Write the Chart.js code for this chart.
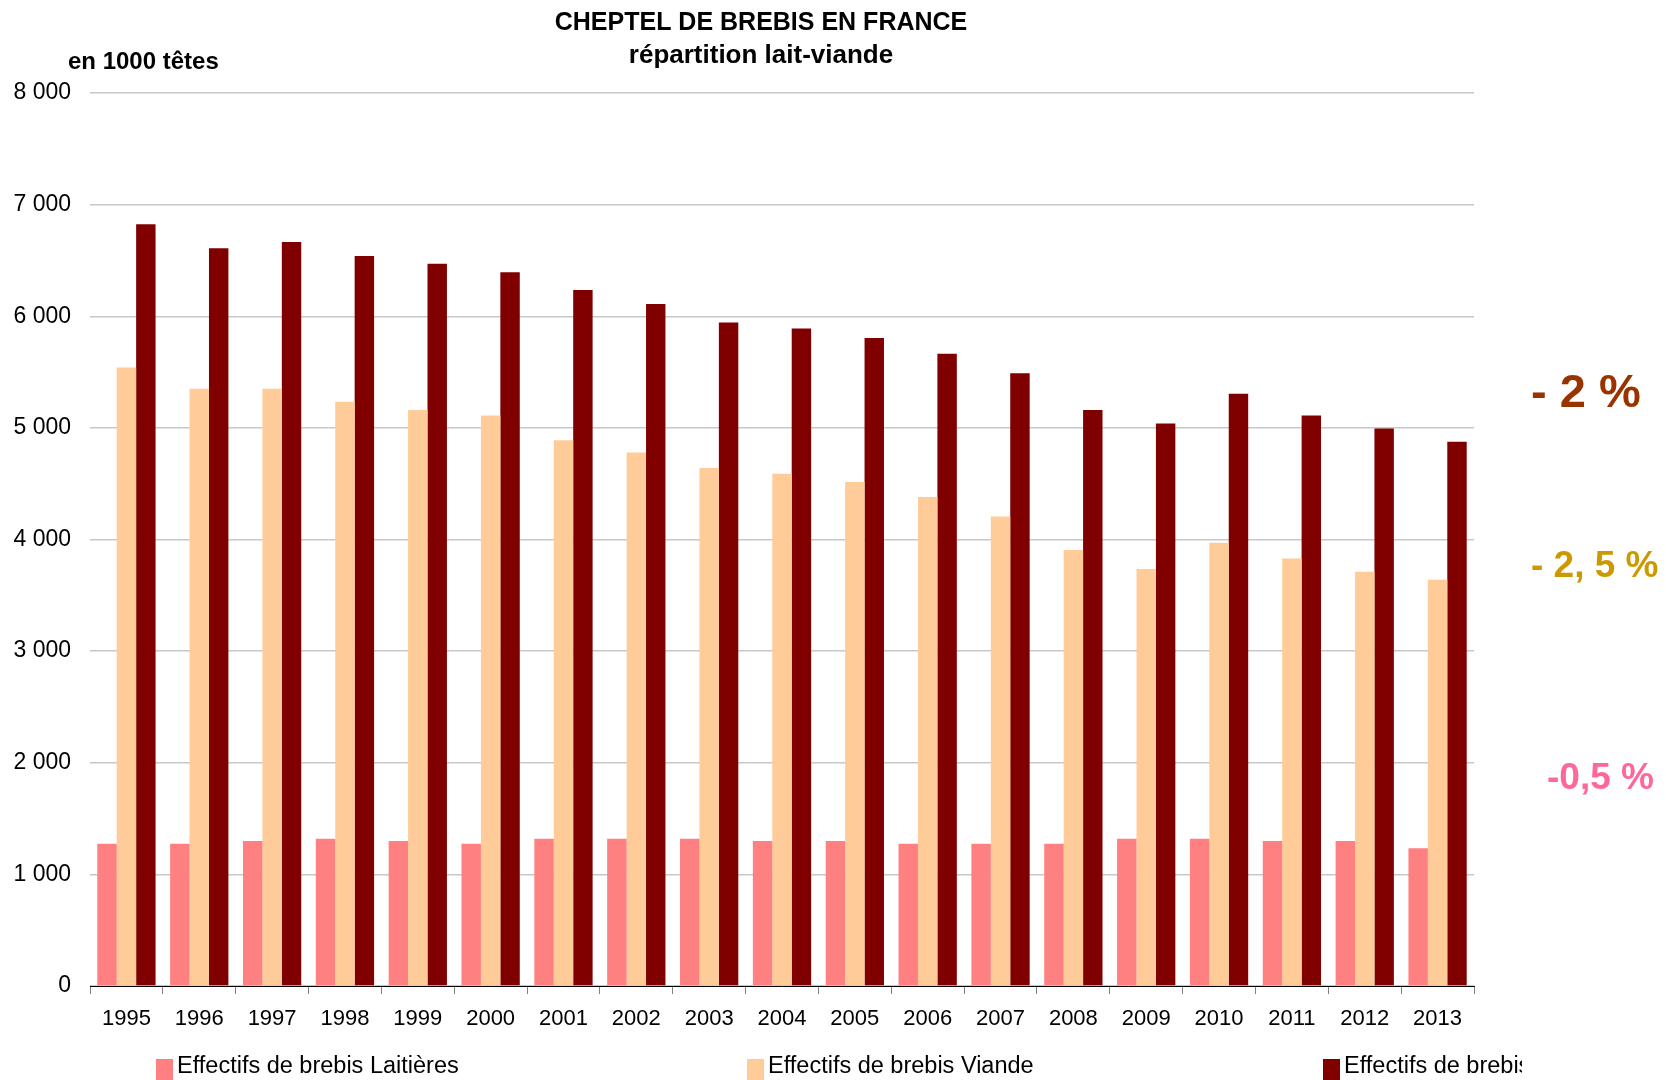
<!DOCTYPE html>
<html lang="fr">
<head>
<meta charset="utf-8">
<title>Cheptel de brebis en France</title>
<script src="https://cdn.jsdelivr.net/npm/chart.js@4.4.1/dist/chart.umd.min.js"></script>
<style>
  html, body { margin: 0; padding: 0; background: #fff; }
  #wrap { width: 1666px; height: 1080px; position: relative; }
</style>
</head>
<body>
<div id="wrap"><canvas id="brebisChart"></canvas></div>
<script>
// years on the x axis
const years = ["1995", "1996", "1997", "1998", "1999", "2000", "2001", "2002", "2003", "2004",
               "2005", "2006", "2007", "2008", "2009", "2010", "2011", "2012", "2013"];

// en 1000 têtes
const laitieres = [1275, 1275, 1300, 1320, 1300, 1275, 1320, 1320, 1320, 1300,
                   1300, 1275, 1275, 1275, 1320, 1320, 1300, 1300, 1235];
const viande = [5540, 5350, 5350, 5235, 5160, 5110, 4890, 4780, 4640, 4590,
                4515, 4380, 4205, 3905, 3735, 3970, 3830, 3710, 3640];
const total = [6825, 6610, 6665, 6540, 6470, 6395, 6235, 6110, 5945, 5890,
               5805, 5665, 5490, 5160, 5040, 5305, 5110, 4995, 4875];

const seriesLabels = ["Effectifs de brebis Laitières", "Effectifs de brebis Viande", "Effectifs de brebis Total"];
const seriesColors = ["#FF8080", "#FFCC99", "#800000"];

// evolution labels on the right
const evolutions = [
  { text: "- 2 %", color: "#993300" },
  { text: "- 2, 5 %", color: "#CC9900" },
  { text: "-0,5 %", color: "#FF6699" }
];

const FONT = "'Liberation Sans', Arial, sans-serif";

function fmtThousands(v) {
  return v.toString().replace(/\B(?=(\d{3})+(?!\d))/g, " ");
}

// titles, unit, right-hand percentages and the bottom legend
const decorations = {
  id: "decorations",
  afterDraw(chart) {
    const ctx = chart.ctx;
    ctx.save();
    ctx.fillStyle = "#000";
    ctx.textBaseline = "middle";
    ctx.textAlign = "center";
    ctx.font = "bold 25px " + FONT;
    ctx.fillText("CHEPTEL DE BREBIS EN FRANCE", 761, 23);
    ctx.font = "bold 26px " + FONT;
    ctx.fillText("répartition lait-viande", 761, 56);
    ctx.textAlign = "left";
    ctx.font = "bold 24px " + FONT;
    ctx.fillText("en 1000 têtes", 68, 62);

    ctx.font = "bold 47px " + FONT;
    ctx.fillStyle = evolutions[0].color;
    ctx.fillText(evolutions[0].text, 1531, 394);
    ctx.font = "bold 37px " + FONT;
    ctx.fillStyle = evolutions[1].color;
    ctx.fillText(evolutions[1].text, 1531, 567);
    ctx.fillStyle = evolutions[2].color;
    ctx.fillText(evolutions[2].text, 1547, 779);

    // legend, cut off on the right like the original
    ctx.beginPath();
    ctx.rect(0, 0, 1522, 1080);
    ctx.clip();
    ctx.font = "23.5px " + FONT;
    const legendX = [156, 747, 1323];
    chart.data.datasets.forEach((ds, i) => {
      ctx.fillStyle = ds.backgroundColor;
      ctx.fillRect(legendX[i], 1059, 17, 21);
      ctx.fillStyle = "#000";
      ctx.fillText(ds.label, legendX[i] + 21, 1067);
    });
    ctx.restore();
  }
};

const ctx = document.getElementById("brebisChart").getContext("2d");
const brebisChart = new Chart(ctx, {
  type: "bar",
  data: {
    labels: years,
    datasets: [
      { label: seriesLabels[0], data: laitieres, backgroundColor: seriesColors[0] },
      { label: seriesLabels[1], data: viande, backgroundColor: seriesColors[1] },
      { label: seriesLabels[2], data: total, backgroundColor: seriesColors[2] }
    ]
  },
  options: {
    responsive: true,
    maintainAspectRatio: false,
    animation: false,
    layout: { padding: { top: 93, right: 192, left: 0, bottom: 0 } },
    datasets: { bar: { barPercentage: 1, categoryPercentage: 0.8 } },
    plugins: {
      legend: { display: false },
      title: { display: false },
      tooltip: { enabled: false }
    },
    scales: {
      x: {
        grid: { drawOnChartArea: false, drawTicks: true, tickLength: 8, color: "#808080", offset: true },
        border: { display: true, color: "#000", width: 1 },
        ticks: { color: "#000", font: { family: FONT, size: 22 }, padding: 12, maxRotation: 0, autoSkip: false },
        afterFit(scale) { scale.height = 94; }
      },
      y: {
        min: 0,
        max: 8000,
        grid: { color: "#c8c8c8", drawTicks: false, lineWidth: 1.5 },
        border: { display: false },
        ticks: {
          stepSize: 1000,
          color: "#000",
          padding: 19,
          font: { family: FONT, size: 23 },
          callback: v => fmtThousands(v)
        },
        afterFit(scale) { scale.width = 90; }
      }
    }
  },
  plugins: [decorations]
});
</script>
</body>
</html>
